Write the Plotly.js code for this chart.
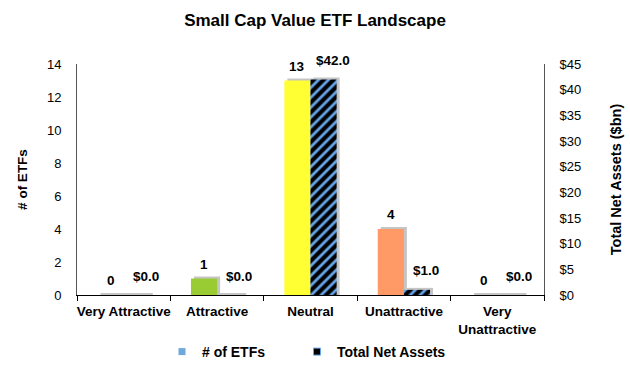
<!DOCTYPE html>
<html>
<head>
<meta charset="utf-8">
<script src="https://cdn.plot.ly/plotly-3.0.1.min.js"></script>
<style>html,body{margin:0;padding:0;background:#fff;}#chart{width:630px;height:368px;}</style>
</head>
<body>
<div id="chart"></div>
<script>
// ---- data ----
var categories = ["Very Attractive", "Attractive", "Neutral", "Unattractive", "Very<br>Unattractive"];
var etfCounts = [0, 1, 13, 4, 0];
var netAssets = [0.0, 0.0, 42.0, 1.0, 0.0];
var etfColors = ["#00a651", "#99cc33", "#ffff33", "#ff9966", "#ff3333"];
var seriesNames = ["# of ETFs", "Total Net Assets"];
var leftTicks = [0, 2, 4, 6, 8, 10, 12, 14];
var rightTicks = [0, 5, 10, 15, 20, 25, 30, 35, 40, 45];

// ---- styling ----
var FONT = "Liberation Sans, Arial, sans-serif";
var W = 0.28;          // bar width (category units)
var SH_X = 0.032;      // shadow horizontal offset (category units, ~3px)
var leftMax = 14, rightMax = 45, plotH = 231.5;
var shadowUpL = 2 * leftMax / plotH;
var shadowUpR = 2 * rightMax / plotH;
var idx = categories.map(function (_, i) { return i; });

var traces = [
  // shadows
  {type: "bar", x: idx, y: etfCounts.map(function (v) { return v + shadowUpL; }), width: W, offset: -W + SH_X,
   marker: {color: "rgba(150,150,150,0.55)", line: {width: 0}}, yaxis: "y", showlegend: false, hoverinfo: "skip"},
  {type: "bar", x: idx, y: netAssets.map(function (v) { return v + shadowUpR; }), width: W, offset: SH_X,
   marker: {color: "rgba(150,150,150,0.55)", line: {width: 0}}, yaxis: "y2", showlegend: false, hoverinfo: "skip"},
  // main bars
  {type: "bar", name: seriesNames[0], x: idx, y: etfCounts, width: W, offset: -W,
   marker: {color: etfColors, line: {width: 0}}, yaxis: "y", showlegend: false},
  {type: "bar", name: seriesNames[1], x: idx, y: netAssets, width: W, offset: 0,
   marker: {color: "#000000", line: {width: 0},
            pattern: {shape: "/", bgcolor: "#000000", fgcolor: "#66a6ea", size: 7, solidity: 0.4, fillmode: "replace"}},
   yaxis: "y2", showlegend: false},
  // legend entries
  {type: "scatter", mode: "markers", name: seriesNames[0], x: [null], y: [null], legend: "legend",
   marker: {symbol: "square", size: 7, color: "#6fa8dc"}, showlegend: true, hoverinfo: "skip"},
  {type: "scatter", mode: "markers", name: seriesNames[1], x: [null], y: [null], legend: "legend2",
   marker: {symbol: "square", size: 7, color: "#000000", line: {color: "#66a6ea", width: 1}}, showlegend: true, hoverinfo: "skip"}
];

var LBL = {family: FONT, size: 13.5, color: "#000", weight: "bold"};
var annotations = [];
etfCounts.forEach(function (v, i) {
  annotations.push({x: i - W / 2, y: v, xref: "x", yref: "y", text: String(v), showarrow: false,
    yanchor: "middle", yshift: 14.5, font: LBL});
});
netAssets.forEach(function (v, i) {
  annotations.push({x: i + W / 2, y: v, xref: "x", yref: "y2", text: "$" + v.toFixed(1), showarrow: false,
    yanchor: "middle", yshift: 19, xshift: 9, font: LBL});
});

var LEGFONT = {family: FONT, size: 14, color: "#000", weight: "bold"};
var layout = {
  width: 630, height: 368,
  margin: {l: 77, r: 86, t: 64, b: 72.5, autoexpand: false},
  paper_bgcolor: "#fff", plot_bgcolor: "#fff",
  font: {family: FONT, size: 13, color: "#000"},
  title: {text: "<b>Small Cap Value ETF Landscape</b>", font: {family: FONT, size: 17, color: "#000"},
          x: 0.5, xref: "container", xanchor: "center", y: 1 - 20 / 368, yref: "container", yanchor: "middle"},
  barmode: "overlay",
  showlegend: true,
  legend: {orientation: "h", x: 162 / 630, xref: "container", xanchor: "left", y: 1 - 352 / 368, yref: "container", yanchor: "middle",
           font: LEGFONT, itemwidth: 30},
  legend2: {orientation: "h", x: 297 / 630, xref: "container", xanchor: "left", y: 1 - 352 / 368, yref: "container", yanchor: "middle",
           font: LEGFONT, itemwidth: 30},
  xaxis: {
    type: "linear", range: [-0.5, 4.5], tickmode: "array", tickvals: idx, ticktext: categories, automargin: false,
    showgrid: false, zeroline: false, showline: true, linecolor: "#000", linewidth: 1,
    ticks: "", tickfont: {family: FONT, size: 13.5, color: "#000", weight: "bold"}, ticklabelstandoff: 4,
    minor: {tickmode: "array", tickvals: [-0.5, 0.5, 1.5, 2.5, 3.5, 4.5], ticks: "outside", ticklen: 5, tickcolor: "#000", showgrid: false}
  },
  yaxis: {
    range: [0, leftMax], tickmode: "array", tickvals: leftTicks, showgrid: false, zeroline: false, automargin: false,
    showline: true, linecolor: "#555", linewidth: 1, ticks: "", ticklabelstandoff: 12,
    tickfont: {family: FONT, size: 13, color: "#000"},
    title: {text: "# of ETFs", font: {family: FONT, size: 13.5, color: "#000", weight: "bold"}, standoff: 16}
  },
  yaxis2: {
    range: [0, rightMax], tickmode: "array", tickvals: rightTicks, ticktext: rightTicks.map(function (v) { return "$" + v; }),
    overlaying: "y", side: "right", automargin: false,
    showgrid: false, zeroline: false, showline: true, linecolor: "#555", linewidth: 1, ticks: "", ticklabelstandoff: 12,
    tickfont: {family: FONT, size: 13, color: "#000"},
    title: {text: "Total Net Assets ($bn)", font: {family: FONT, size: 14.5, color: "#000", weight: "bold"}, standoff: 30}
  },
  annotations: annotations
};

Plotly.newPlot("chart", traces, layout, {displayModeBar: false, staticPlot: true});
</script>
</body>
</html>
